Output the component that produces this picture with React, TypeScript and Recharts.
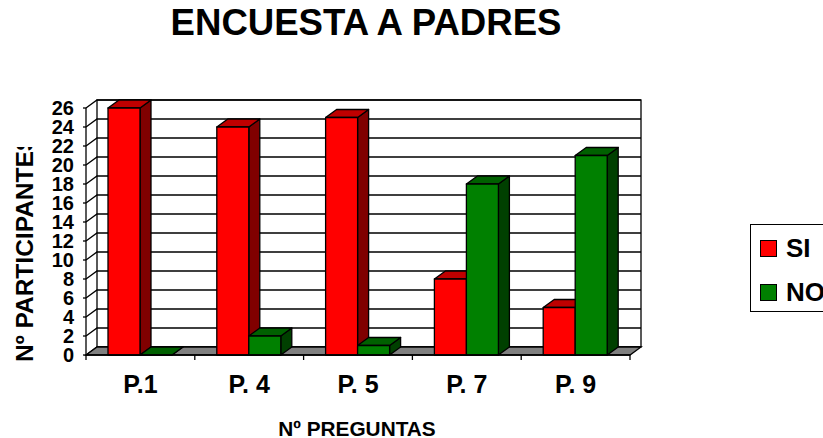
import { Bar, BarChart, CartesianGrid, Legend, ReferenceArea, XAxis, YAxis } from 'recharts'

const preguntas = ['P.1', 'P. 4', 'P. 5', 'P. 7', 'P. 9']
const si = [26, 24, 25, 8, 5]
const no = [0, 2, 1, 18, 21]
const yTicks = [0, 2, 4, 6, 8, 10, 12, 14, 16, 18, 20, 22, 24, 26]

const data = preguntas.map((p, i) => ({ name: p, SI: si[i], NO: no[i] }))

const FONT = '"Liberation Sans", Arial, sans-serif'
// depth of the fake 3D box
const DX = 11
const DY = -8
const BAND = 544 / 5

function Bar3D({ x, y, width, height, fill, top, side }: any) {
    return (
        <g stroke="#000" strokeWidth={1.3} strokeLinejoin="round">
            <polygon
                points={`${x + width},${y} ${x + width + DX},${y + DY} ${x + width + DX},${y + height + DY} ${x + width},${y + height}`}
                fill={side}
            />
            <polygon
                points={`${x},${y} ${x + DX},${y + DY} ${x + width + DX},${y + DY} ${x + width},${y}`}
                fill={top}
            />
            {height > 0 ? <rect x={x} y={y} width={width} height={height} fill={fill} /> : null}
        </g>
    )
}

function Walls({ x, y, width, height }: any) {
    const bottom = y + height
    return (
        <g stroke="#000" strokeWidth={1.3}>
            <rect x={x + DX} y={y + DY} width={width} height={height} fill="none" />
            <polygon
                points={`${x},${bottom} ${x + DX},${bottom + DY} ${x + width + DX},${bottom + DY} ${x + width},${bottom}`}
                fill="#808080"
            />
            <line x1={x} y1={y} x2={x} y2={bottom} />
        </g>
    )
}

function GridLine({ x1, y1, x2, y2 }: any) {
    return (
        <polyline
            points={`${x1},${y1} ${x1 + DX},${y1 + DY} ${x2 + DX},${y2 + DY}`}
            fill="none"
            stroke="#000"
            strokeWidth={1.3}
        />
    )
}

function CategoryTick({ x, y, payload, index }: any) {
    return (
        <g>
            <line x1={x + BAND / 2} y1={y - 8} x2={x + BAND / 2} y2={y - 3} stroke="#000" strokeWidth={1.3} />
            {index === 0 ? (
                <line x1={x - BAND / 2} y1={y - 8} x2={x - BAND / 2} y2={y - 3} stroke="#000" strokeWidth={1.3} />
            ) : null}
            <text x={x} y={y + 30} textAnchor="middle" fontFamily={FONT} fontWeight="bold" fontSize={25} fill="#000">
                {payload.value}
            </text>
        </g>
    )
}

function LegendBox({ payload }: any) {
    return (
        <div
            style={{
                width: 100,
                height: 88,
                border: '1.3px solid #000',
                boxSizing: 'border-box',
                paddingTop: 1,
                fontFamily: FONT,
                fontWeight: 'bold',
                fontSize: 26,
                color: '#000',
                background: '#fff',
            }}
        >
            {(payload ?? []).map((item: any) => (
                <div key={item.value} style={{ display: 'flex', alignItems: 'center', height: 44 }}>
                    <span
                        style={{
                            display: 'inline-block',
                            width: 17,
                            height: 17,
                            marginLeft: 9,
                            marginRight: 9,
                            boxSizing: 'border-box',
                            border: '1.3px solid #000',
                            background: item.color,
                        }}
                    />
                    {item.value}
                </div>
            ))}
        </div>
    )
}

export default function App() {
    return (
        <div style={{ position: 'absolute', left: 0, top: 0, width: 823, height: 438, overflow: 'hidden', background: '#fff' }}>
            <BarChart
                width={823}
                height={438}
                data={data}
                margin={{ left: 0, right: 193, top: 108, bottom: 0 }}
                barSize={32}
                barGap={0}
            >
                <defs>
                    <clipPath id="yTitleClip">
                        <rect x={0} y={147} width={60} height={260} />
                    </clipPath>
                </defs>
                <text x={366} y={35} textAnchor="middle" fontFamily={FONT} fontWeight="bold" fontSize={36.6} fill="#000">
                    ENCUESTA A PADRES
                </text>
                <g clipPath="url(#yTitleClip)">
                    <text
                        transform="translate(33,362) rotate(-90)"
                        fontFamily={FONT}
                        fontWeight="bold"
                        fontSize={24.5}
                        fill="#000"
                    >
                        Nº PARTICIPANTES
                    </text>
                </g>
                <text x={357} y={436} textAnchor="middle" fontFamily={FONT} fontWeight="bold" fontSize={20.8} fill="#000">
                    Nº PREGUNTAS
                </text>
                <ReferenceArea y1={0} y2={26} shape={<Walls />} />
                <CartesianGrid vertical={false} horizontal={<GridLine />} />
                <XAxis dataKey="name" height={83} axisLine={{ stroke: '#000', strokeWidth: 1.3 }} tickLine={false} tick={<CategoryTick />} interval={0} />
                <YAxis
                    width={86}
                    domain={[0, 26]}
                    ticks={yTicks}
                    interval={0}
                    axisLine={false}
                    tickLine={{ stroke: '#000', strokeWidth: 1.3 }}
                    tickSize={3}
                    tickMargin={9}
                    tick={{ fill: '#000', fontFamily: FONT, fontWeight: 'bold', fontSize: 20 }}
                />
                <Legend
                    layout="vertical"
                    align="center"
                    verticalAlign="middle"
                    itemSorter={null}
                    wrapperStyle={{ left: 750, top: 224, width: 100 }}
                    content={<LegendBox />}
                />
                <Bar dataKey="SI" fill="#ff0000" isAnimationActive={false} shape={<Bar3D top="#bf0000" side="#800000" />} />
                <Bar dataKey="NO" fill="#008000" isAnimationActive={false} shape={<Bar3D top="#006000" side="#004000" />} />
            </BarChart>
        </div>
    )
}
